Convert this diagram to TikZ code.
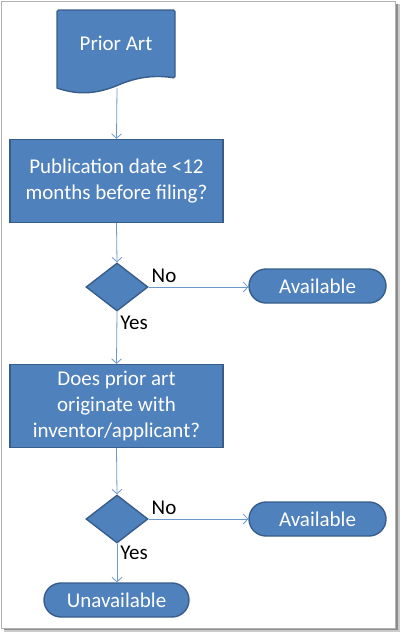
\documentclass[tikz,border=0pt]{standalone}
\usepackage{fontspec}
\setmainfont{Carlito}
\usetikzlibrary{shapes.geometric,arrows.meta}
\definecolor{fillblue}{HTML}{4F81BD}
\definecolor{edgeblue}{HTML}{385D8A}
\definecolor{linkblue}{HTML}{6E97CC}
\begin{document}
\begin{tikzpicture}[x=1pt,y=-1pt,
  txt/.style={font=\fontsize{21}{26}\selectfont},
  shapefill/.style={fill=fillblue,draw=edgeblue,line width=1.4pt},
  procbox/.style={shapefill,rectangle,minimum width=213pt,minimum height=83pt,inner sep=0pt,text=white,align=center,txt},
  decide/.style={shapefill,diamond,minimum width=62pt,minimum height=48pt,inner sep=0pt},
  term/.style={shapefill,rectangle,rounded corners=17pt,minimum height=34pt,inner sep=0pt,text=white,txt},
  lbl/.style={text=black,txt,inner sep=0pt},
  link/.style={draw=linkblue,line width=0.8pt,-{Straight Barb[length=4.5pt,width=10pt]}}
]
\useasboundingbox (0,0) rectangle (400,632);
% frame with shadow
\fill[black!20] (4,629) rectangle (400,632);
\fill[black!20] (396,4) rectangle (400,632);
\fill[black!45] (4,628.5) rectangle (398,630);
\fill[black!45] (395.5,4) rectangle (398,630);
\draw[black!30,line width=0.8pt] (1,1) rectangle (395.5,628);
% document shape
\draw[shapefill,rounded corners=1.5pt] (57,88) -- (57,10) -- (175,10) -- (175,78) [sharp corners]
  .. controls (150,74) and (132,79) .. (116,86) .. controls (98,93) and (80,96) .. (57,88) -- cycle;
\node[text=white,txt,inner sep=0pt] (prior) at (116,43) {Prior Art};
\coordinate (priorbot) at (117,88);
\node[procbox] (pub) at (116.5,181) {Publication date <12\\months before filing?};
\node[decide] (d1) at (117,287) {};
\node[term,minimum width=137pt] (av1) at (317.5,286) {Available};
\node[procbox] (orig) at (116.5,406) {Does prior art\\originate with\\inventor/applicant?};
\node[decide] (d2) at (117,519) {};
\node[term,minimum width=137pt] (av2) at (317.5,519) {Available};
\node[term,minimum width=145pt] (unav) at (116.5,600) {Unavailable};
\node[lbl] (no1) at (164,276) {No};
\node[lbl] (yes1) at (134,323) {Yes};
\node[lbl] (no2) at (164,508) {No};
\node[lbl] (yes2) at (134,553) {Yes};
\draw[link] (priorbot) -- (pub.north);
\draw[link] (pub.south) -- (d1.north);
\draw[link] (d1.east) -- (av1.west |- d1.east);
\draw[link] (d1.south) -- (orig.north);
\draw[link] (orig.south) -- (d2.north);
\draw[link] (d2.east) -- (av2.west);
\draw[link] (d2.south) -- (d2.south |- unav.north);
\end{tikzpicture}
\end{document}
